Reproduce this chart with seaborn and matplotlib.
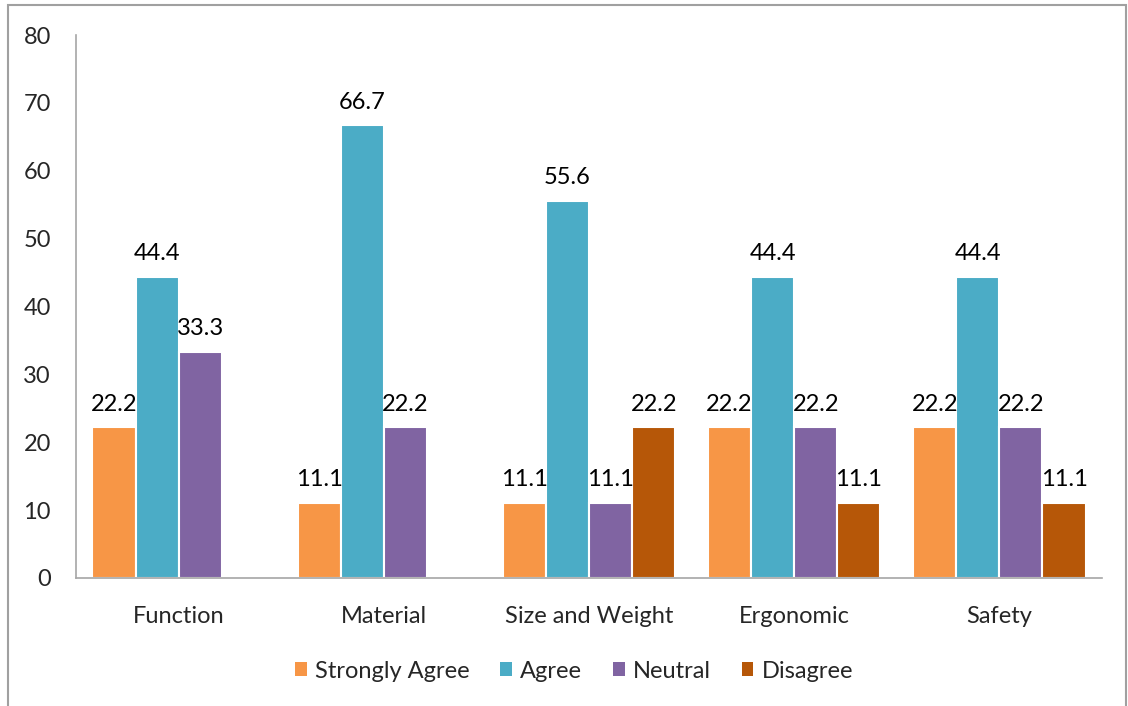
import numpy as np
import pandas as pd
import matplotlib
matplotlib.use("Agg")
import matplotlib.pyplot as plt
import matplotlib.patches as mpatches
import seaborn as sns

# ==============================
# data
# ==============================
categories = ["Function", "Material", "Size and Weight", "Ergonomic", "Safety"]
series_names = ["Strongly Agree", "Agree", "Neutral", "Disagree"]
strongly_agree = [22.2, 11.1, 11.1, 22.2, 22.2]
agree = [44.4, 66.7, 55.6, 44.4, 44.4]
neutral = [33.3, 22.2, 11.1, 22.2, 22.2]
disagree = [None, None, 22.2, 11.1, 11.1]
y_ticks = [0, 10, 20, 30, 40, 50, 60, 70, 80]

colors = ["#F79646", "#4BACC6", "#8064A2", "#B65708"]

rows = []
for name, vals in zip(series_names, [strongly_agree, agree, neutral, disagree]):
    for cat, v in zip(categories, vals):
        rows.append({"cat": cat, "series": name, "value": np.nan if v is None else v})
df = pd.DataFrame(rows)

# ==============================
# style
# ==============================
sns.set_style("white")
plt.rcParams['font.family'] = ['Lato', 'DejaVu Sans']
FS = 17

fig = plt.figure(figsize=(11.28, 7.06), dpi=100)
ax = fig.add_axes([76 / 1128, 1 - 578 / 706, (1102 - 76) / 1128, (578 - 35) / 706])

sns.barplot(data=df, x="cat", y="value", hue="series", order=categories,
            hue_order=series_names, palette=colors, width=0.84,
            edgecolor="white", linewidth=1.5, saturation=1, ax=ax, legend=False)

for c in ax.containers:
    ax.bar_label(c, fmt=lambda v: f"{v:.1f}" if np.isfinite(v) and v > 0 else "",
                 padding=9, fontsize=FS, color="black")

ax.set_ylim(0, 80)
ax.set_yticks(y_ticks)
ax.set_xlim(-0.5, len(categories) - 0.5)
ax.set_xlabel("")
ax.set_ylabel("")
ax.tick_params(axis="y", length=0, pad=18, labelsize=FS)
ax.tick_params(axis="x", length=0, pad=20, labelsize=FS)

for s in ["top", "right"]:
    ax.spines[s].set_visible(False)
for s in ["left", "bottom"]:
    ax.spines[s].set_color("#A6A6A6")
    ax.spines[s].set_linewidth(1.2)

# legend
handles = [mpatches.Patch(facecolor=c, edgecolor="none") for c in colors]
fig.legend(handles, series_names, loc="center", bbox_to_anchor=(574 / 1128, 1 - 671 / 706),
           ncol=4, frameon=False, fontsize=FS, handlelength=0.5, handleheight=0.5,
           handletextpad=0.35, columnspacing=1.3)

# outer border
fig.patches.append(mpatches.Rectangle((8 / 1128, -0.05), (1126 - 8) / 1128, 1.05 - 5 / 706,
                                      transform=fig.transFigure, fill=False,
                                      edgecolor="#A0A0A0", linewidth=1.5))

fig.savefig("out.png", dpi=100, facecolor="white")
